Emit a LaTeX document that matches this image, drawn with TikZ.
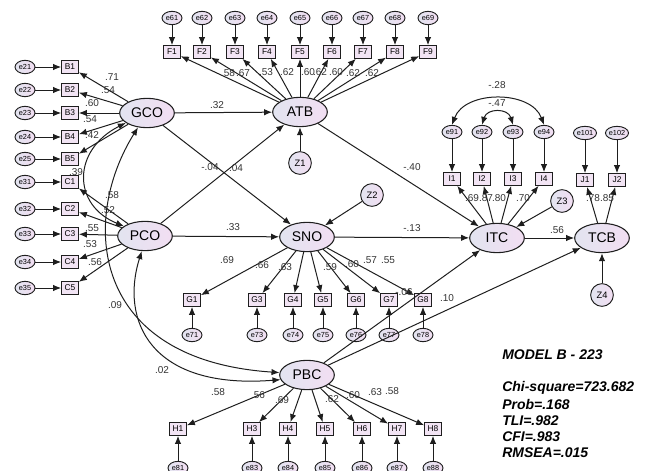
\documentclass[tikz,border=0pt]{standalone}
\usepackage{fontspec}
\setmainfont{Liberation Sans}
\usetikzlibrary{shapes.geometric,arrows.meta}
\definecolor{latL}{RGB}{226,228,240}
\definecolor{latR}{RGB}{242,222,242}
\definecolor{boxF}{RGB}{242,228,244}
\definecolor{lineC}{RGB}{30,30,30}
\tikzset{
 lat/.style={ellipse, draw=lineC, line width=0.8pt, left color=latL, right color=latR, minimum width=41pt, minimum height=22pt, inner sep=0pt, font=\fontsize{10.5}{11}\selectfont},
 err/.style={ellipse, draw=lineC, line width=0.7pt, left color=latL, right color=latR, minimum width=15pt, minimum height=10pt, inner sep=0pt, font=\fontsize{5.5}{5.5}\selectfont},
 dist/.style={circle, draw=lineC, line width=0.7pt, left color=latL, right color=latR, minimum size=17pt, inner sep=0pt, font=\fontsize{7}{7}\selectfont},
 obs/.style={rectangle, draw=lineC, line width=0.8pt, fill=boxF, minimum width=12.5pt, minimum height=9.5pt, inner sep=0.5pt, font=\fontsize{6.3}{6.5}\selectfont},
 arr/.style={-{Latex[length=6pt,width=4.8pt]}, line width=0.75pt, draw=lineC},
 cov/.style={{Latex[length=6pt,width=4.8pt]}-{Latex[length=6pt,width=4.8pt]}, line width=0.75pt, draw=lineC},
 lab/.style={font=\fontsize{7.5}{7.5}\selectfont, text=black!80, inner sep=0pt},
 fitstat/.style={font=\fontsize{10.5}{10.5}\selectfont\bfseries\itshape, anchor=west, inner sep=0pt},
}
\begin{document}
\begin{tikzpicture}[x=0.75pt,y=-0.75pt]
\useasboundingbox (0,0) rectangle (658,471);

% latent variables
\node[lat] (GCO) at (147,113) {GCO};
\node[lat] (PCO) at (145,236) {PCO};
\node[lat] (ATB) at (300,112) {ATB};
\node[lat] (SNO) at (307,237) {SNO};
\node[lat] (PBC) at (307,375) {PBC};
\node[lat] (ITC) at (497,238) {ITC};
\node[lat] (TCB) at (602,238) {TCB};

% disturbances
\node[dist] (Z1) at (300,163) {Z1};
\node[dist] (Z2) at (372,195) {Z2};
\node[dist] (Z3) at (562,201) {Z3};
\node[dist] (Z4) at (602,295) {Z4};
\draw[arr] (Z1) -- (ATB);
\draw[arr] (Z2) -- (SNO);
\draw[arr] (Z3) -- (ITC);
\draw[arr] (Z4) -- (TCB);

% GCO indicators
\foreach \b/\e/\y in {B1/e21/67,B2/e22/90,B3/e23/113,B4/e24/137,B5/e25/159}{
  \node[obs] (\b) at (70,\y) {\b};
  \node[err] (\e) at (25,\y) {\e};
  \draw[arr] (\e) -- (\b);
  \draw[arr] (GCO) -- (\b);
}
% PCO indicators
\foreach \b/\e/\y in {C1/e31/182,C2/e32/209,C3/e33/234,C4/e34/262,C5/e35/288}{
  \node[obs] (\b) at (70,\y) {\b};
  \node[err] (\e) at (25,\y) {\e};
  \draw[arr] (\e) -- (\b);
  \draw[arr] (PCO) -- (\b);
}
% ATB indicators
\foreach \i/\x in {1/172,2/202,3/235,4/267,5/300,6/332,7/363,8/395,9/428}{
  \node[obs] (F\i) at (\x,52) {F\i};
  \node[err] (e6\i) at (\x,18) {e6\i};
  \draw[arr] (e6\i) -- (F\i);
  \draw[arr] (ATB) -- (F\i);
}
% SNO indicators
\foreach \i/\x in {1/192,3/257,4/293,5/323,6/356,7/389,8/423}{
  \node[obs] (G\i) at (\x,300) {G\i};
  \node[err] (e7\i) at (\x,335) {e7\i};
  \draw[arr] (e7\i) -- (G\i);
  \draw[arr] (SNO) -- (G\i);
}
% PBC indicators
\foreach \i/\x in {1/178,3/252,4/288,5/325,6/362,7/397,8/433}{
  \node[obs] (H\i) at (\x,429) {H\i};
  \node[err] (e8\i) at (\x,468) {e8\i};
  \draw[arr] (e8\i) -- (H\i);
  \draw[arr] (PBC) -- (H\i);
}
% ITC indicators
\foreach \i/\x in {1/452,2/482,3/513,4/544}{
  \node[obs] (I\i) at (\x,179) {I\i};
  \node[err] (e9\i) at (\x,132) {e9\i};
  \draw[arr] (e9\i) -- (I\i);
  \draw[arr] (ITC) -- (I\i);
}
% TCB indicators
\foreach \i/\x in {1/585,2/617}{
  \node[obs] (J\i) at (\x,180) {J\i};
  \node[err] (e10\i) at (\x,133) {e10\i};
  \draw[arr] (e10\i) -- (J\i);
  \draw[arr] (TCB) -- (J\i);
}

% structural paths
\draw[arr] (GCO) -- (ATB);
\draw[arr] (GCO) -- (SNO);
\draw[arr] (PCO) -- (ATB);
\draw[arr] (PCO) -- (SNO);
\draw[arr] (ATB) -- (ITC);
\draw[arr] (SNO) -- (ITC);
\draw[arr] (ITC) -- (TCB);
\draw[arr] (PBC) -- (ITC);
\draw[arr] (PBC) -- (TCB);

% covariances
\draw[cov] (GCO.205) .. controls (72,150) and (72,205) .. (PCO.155);
\draw[cov] (GCO.238) .. controls (80,220) and (90,360) .. (PBC.175);
\draw[cov] (PCO.258) .. controls (120,320) and (150,390) .. (PBC.190);
\draw[cov] (e91.north) .. controls (465,90) and (531,90) .. (e94.north);
\draw[cov] (e92.north) .. controls (487,108) and (508,108) .. (e93.north);

% loading labels
\foreach \t/\x/\y in {.71/112/77,.54/108/90,.60/92/103,.54/90/119,.42/92/135,
  .39/76/172,.52/108/210,.55/92/228,.53/90/244,.56/95/262,.58/112/195,
  .58/228/73,.67/243/73,.53/266/72,.62/287/72,.60/308/72,.62/320/72,.60/336/72,.62/353/73,.62/372/73,
  .32/217/105,-.04/210/167,.04/236/168,.33/233/227,-.40/412/167,-.13/412/228,.56/557/230,.10/447/298,-.06/404/292,
  .69/472/198,.87/486/198,.80/499/198,.70/523/198,.78/593/198,.85/607/198,
  .69/227/260,.66/262/265,.63/285/267,.59/330/267,.60/352/264,.57/370/260,.55/388/260,
  .58/218/392,.56/258/395,.69/282/400,.62/332/399,.60/353/395,.63/375/392,.58/392/391,
  .09/115/305,.02/162/370,-.28/497/85,-.47/497/103}{
  \node[lab] at (\x,\y) {\t};
}

% fit statistics
\node[fitstat] (m) at (502,355) {MODEL B - 223};
\node[fitstat] (c) at (502,388) {Chi-square=723.682};
\node[fitstat] (p) at (502,404) {Prob=.168};
\node[fitstat] (t) at (502,421) {TLI=.982};
\node[fitstat] (f) at (502,437) {CFI=.983};
\node[fitstat] (r) at (502,453) {RMSEA=.015};
\end{tikzpicture}
\end{document}
